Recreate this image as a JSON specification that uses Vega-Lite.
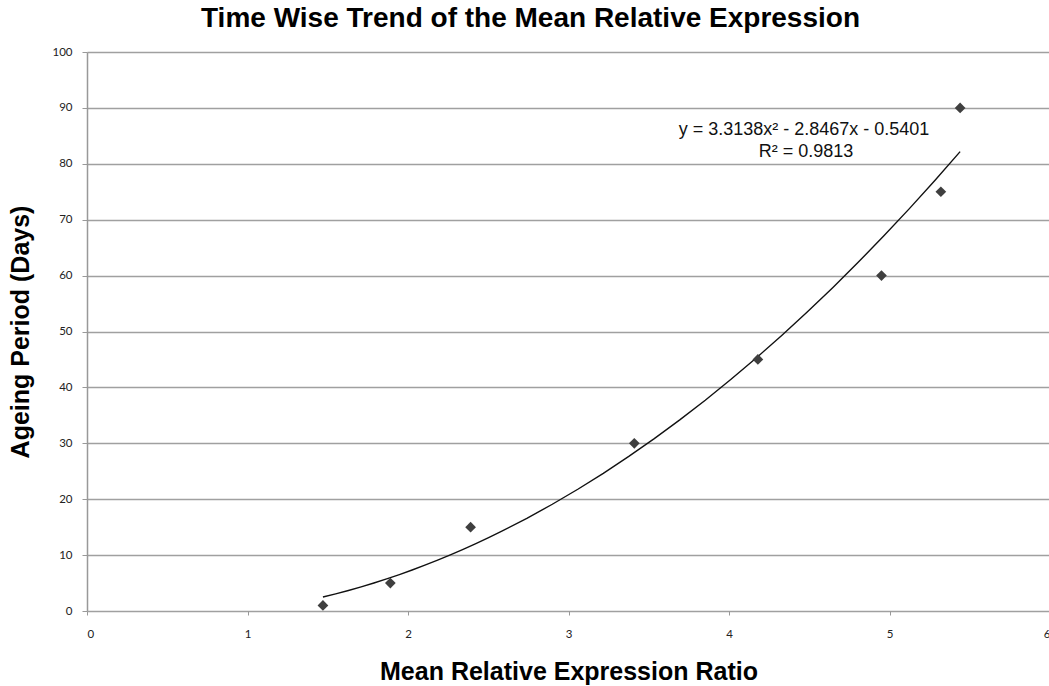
{
  "$schema": "https://vega.github.io/schema/vega-lite/v6.json",
  "autosize": "none",
  "width": 963,
  "height": 559,
  "padding": {"left": 87, "top": 52, "right": 0, "bottom": 75},
  "background": "white",
  "title": {
    "text": "Time Wise Trend of the Mean Relative Expression",
    "font": "Liberation Sans",
    "fontSize": 28,
    "fontWeight": "bold",
    "color": "#000000",
    "anchor": "middle",
    "offset": 13,
    "dx": -38
  },
  "config": {
    "view": {"stroke": null},
    "axis": {
      "labelFont": "Lato",
      "labelFontSize": 11.5,
      "labelColor": "#222222",
      "titleFont": "Liberation Sans",
      "titleFontSize": 25,
      "titleFontWeight": "bold",
      "titleColor": "#000000",
      "domainColor": "#999999",
      "domainWidth": 1.5,
      "tickColor": "#999999",
      "gridColor": "#a0a0a0",
      "gridWidth": 1.5
    }
  },
  "datasets": {
    "points": [
      {"ratio": 1.47, "days": 1},
      {"ratio": 1.89, "days": 5},
      {"ratio": 2.39, "days": 15},
      {"ratio": 3.41, "days": 30},
      {"ratio": 4.18, "days": 45},
      {"ratio": 4.95, "days": 60},
      {"ratio": 5.32, "days": 75},
      {"ratio": 5.44, "days": 90}
    ],
    "notes": [
      {"ratio": 4.467, "days": 86.0, "label": "y = 3.3138x² - 2.8467x - 0.5401"},
      {"ratio": 4.48, "days": 82.1, "label": "R² = 0.9813"}
    ]
  },
  "layer": [
    {
      "data": {"name": "points"},
      "transform": [
        {"regression": "days", "on": "ratio", "method": "poly", "order": 2, "extent": [1.47, 5.44]}
      ],
      "mark": {"type": "line", "color": "#111111", "strokeWidth": 1.4},
      "encoding": {
        "x": {
          "field": "ratio", "type": "quantitative",
          "scale": {"domain": [0, 6], "nice": false},
          "axis": {
            "title": "Mean Relative Expression Ratio",
            "values": [0, 1, 2, 3, 4, 5, 6],
            "format": "d",
            "grid": false,
            "domain": false,
            "tickSize": 4,
            "labelPadding": 13,
            "titlePadding": 20
          }
        },
        "y": {
          "field": "days", "type": "quantitative",
          "scale": {"domain": [0, 100], "nice": false},
          "axis": {
            "title": "Ageing Period (Days)",
            "values": [0, 10, 20, 30, 40, 50, 60, 70, 80, 90, 100],
            "grid": true,
            "tickSize": 5,
            "labelPadding": 10,
            "titlePadding": 18
          }
        }
      }
    },
    {
      "data": {"name": "points"},
      "mark": {"type": "point", "shape": "diamond", "filled": true, "color": "#3f3f3f", "size": 115, "opacity": 1},
      "encoding": {
        "x": {"field": "ratio", "type": "quantitative"},
        "y": {"field": "days", "type": "quantitative"}
      }
    },
    {
      "data": {"name": "notes"},
      "mark": {"type": "text", "font": "Liberation Sans", "fontSize": 18, "color": "#111111", "align": "center", "baseline": "middle"},
      "encoding": {
        "x": {"field": "ratio", "type": "quantitative"},
        "y": {"field": "days", "type": "quantitative"},
        "text": {"field": "label"}
      }
    }
  ]
}
